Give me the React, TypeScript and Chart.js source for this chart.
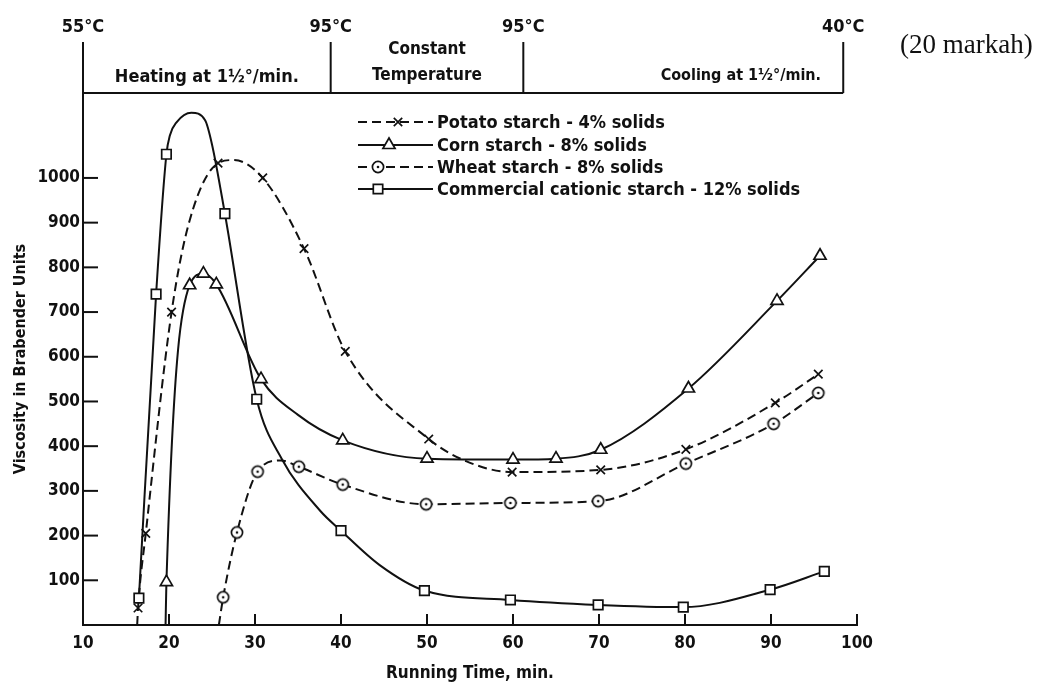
import React, { useEffect, useRef } from "react";
import { Chart, registerables } from "chart.js";

Chart.register(...registerables);

const INK = "#111111";
const FONT = '"DejaVu Sans Condensed", "DejaVu Sans", sans-serif';

// ---------- axes / annotations ----------
const xTickValues = [10, 20, 30, 40, 50, 60, 70, 80, 90, 100];
const yTickValues = [100, 200, 300, 400, 500, 600, 700, 800, 900, 1000];
const xTitle = "Running Time, min.";
const yTitle = "Viscosity in Brabender Units";

const tempLabels = ["55°C", "95°C", "95°C", "40°C"];
const tempTimes = [10, 38.8, 61.2, 98.4];
const phaseHeating = "Heating at 1½°/min.";
const phaseConstant = ["Constant", "Temperature"];
const phaseCooling = "Cooling at 1½°/min.";
const sideNote = "(20 markah)";

const seriesNames = [
  "Potato starch - 4% solids",
  "Corn starch - 8% solids",
  "Wheat starch - 8% solids",
  "Commercial cationic starch - 12% solids",
];

// ---------- data: marked points ----------
const potatoX = [16.4, 17.3, 20.3, 25.7, 30.9, 35.7, 40.5, 50.2, 59.9, 70.2, 80.1, 90.5, 95.5];
const potatoY = [38, 205, 700, 1033, 1000, 842, 612, 416, 342, 347, 393, 497, 561];
// extra (unmarked) points
const potatoCurveX = [16.3, 22.4, 27.5, 54.6];
const potatoCurveY = [0, 905, 1040, 366];

const cornX = [19.7, 22.4, 24.0, 25.5, 30.7, 40.2, 50.0, 60.0, 65.0, 70.2, 80.4, 90.7, 95.7];
const cornY = [96, 760, 786, 762, 550, 413, 372, 370, 372, 392, 529, 725, 826];
const cornCurveX = [19.6, 35.0];
const cornCurveY = [0, 470];

const wheatX = [26.3, 27.9, 30.3, 35.1, 40.2, 49.9, 59.7, 69.9, 80.1, 90.3, 95.5];
const wheatY = [62, 207, 343, 354, 314, 270, 273, 277, 361, 450, 519];
const wheatCurveX = [25.8, 33.0];
const wheatCurveY = [0, 368];

const cationicX = [16.5, 18.5, 19.7, 26.5, 30.2, 40.0, 49.7, 59.7, 69.9, 79.8, 89.9, 96.2];
const cationicY = [60, 740, 1053, 920, 505, 211, 77, 56, 45, 40, 79, 120];
const cationicCurveX = [20.1, 20.9, 22.6, 24.2, 25.0, 33.1, 37.6, 44.5];
const cationicCurveY = [1095, 1125, 1146, 1129, 1075, 372, 255, 134];

type P = { x: number; y: number };
const pts = (xs: number[], ys: number[]): P[] => xs.map((x, i) => ({ x, y: ys[i] }));
const curve = (xs: number[], ys: number[], ex: number[], ey: number[]): P[] =>
  [...pts(xs, ys), ...pts(ex, ey)].sort((a, b) => a.x - b.x);

function makeCircleDot(r: number): HTMLCanvasElement {
  const c = document.createElement("canvas");
  const s = Math.ceil(2 * r + 4);
  c.width = s;
  c.height = s;
  const g = c.getContext("2d")!;
  g.fillStyle = "#fff";
  g.strokeStyle = INK;
  g.lineWidth = 1.7;
  g.beginPath();
  g.arc(s / 2, s / 2, r, 0, Math.PI * 2);
  g.fill();
  g.stroke();
  g.fillStyle = INK;
  g.beginPath();
  g.arc(s / 2, s / 2, 1.3, 0, Math.PI * 2);
  g.fill();
  return c;
}

function drawMarker(ctx: CanvasRenderingContext2D, kind: string, x: number, y: number, img: HTMLCanvasElement) {
  ctx.save();
  ctx.setLineDash([]);
  ctx.strokeStyle = INK;
  ctx.fillStyle = "#fff";
  ctx.lineWidth = 1.7;
  if (kind === "cross") {
    const d = 4.2;
    ctx.beginPath();
    ctx.moveTo(x - d, y - d);
    ctx.lineTo(x + d, y + d);
    ctx.moveTo(x + d, y - d);
    ctx.lineTo(x - d, y + d);
    ctx.stroke();
  } else if (kind === "triangle") {
    const r = 7;
    ctx.beginPath();
    ctx.moveTo(x, y - r);
    ctx.lineTo(x + r * 0.866, y + r / 2);
    ctx.lineTo(x - r * 0.866, y + r / 2);
    ctx.closePath();
    ctx.fill();
    ctx.stroke();
  } else if (kind === "circle") {
    ctx.drawImage(img, x - img.width / 2, y - img.height / 2);
  } else {
    const h = 4.7;
    ctx.beginPath();
    ctx.rect(x - h, y - h, 2 * h, 2 * h);
    ctx.fill();
    ctx.stroke();
  }
  ctx.restore();
}

export default function App() {
  const ref = useRef<HTMLCanvasElement | null>(null);

  useEffect(() => {
    if (!ref.current) return;
    const circleImg = makeCircleDot(5.6);
    const kinds = ["cross", "triangle", "circle", "rect"];
    const dashes = [[9, 5], [], [9, 5], []];

    const overlay = {
      id: "overlay",
      afterDraw(chart: any) {
        const ctx: CanvasRenderingContext2D = chart.ctx;
        const xs = chart.scales.x;
        const ys = chart.scales.y;
        const a = chart.chartArea;
        ctx.save();
        ctx.strokeStyle = INK;
        ctx.fillStyle = INK;
        ctx.lineWidth = 2;
        ctx.setLineDash([]);

        // header band
        const hx = tempTimes.map((t) => xs.getPixelForValue(t));
        const headTop = 42;
        ctx.beginPath();
        ctx.moveTo(hx[0], a.top);
        ctx.lineTo(hx[hx.length - 1], a.top);
        ctx.stroke();
        hx.forEach((x) => {
          ctx.beginPath();
          ctx.moveTo(x, headTop);
          ctx.lineTo(x, a.top);
          ctx.stroke();
        });
        ctx.textAlign = "center";
        ctx.textBaseline = "middle";
        ctx.font = `bold 18px ${FONT}`;
        tempLabels.forEach((l, i) => ctx.fillText(l, hx[i], 27));
        ctx.fillText(phaseHeating, (hx[0] + hx[1]) / 2, 77);
        ctx.font = `bold 17px ${FONT}`;
        ctx.fillText(phaseConstant[0], (hx[1] + hx[2]) / 2, 50);
        ctx.fillText(phaseConstant[1], (hx[1] + hx[2]) / 2, 76);
        ctx.font = `bold 16px ${FONT}`;
        ctx.fillText(phaseCooling, hx[2] + (hx[3] - hx[2]) * 0.68, 76);

        // inward tick marks
        yTickValues.forEach((v) => {
          const py = ys.getPixelForValue(v);
          ctx.beginPath();
          ctx.moveTo(a.left, py);
          ctx.lineTo(a.left + 15, py);
          ctx.stroke();
        });
        xTickValues.slice(1).forEach((v) => {
          const px = xs.getPixelForValue(v);
          ctx.beginPath();
          ctx.moveTo(px, a.bottom);
          ctx.lineTo(px, a.bottom - 11);
          ctx.stroke();
        });

        // axis titles
        ctx.font = `bold 17px ${FONT}`;
        ctx.fillText(xTitle, (a.left + a.right) / 2, 674);
        ctx.save();
        ctx.translate(21, (a.top + a.bottom) / 2);
        ctx.rotate(-Math.PI / 2);
        ctx.font = `bold 16px ${FONT}`;
        ctx.fillText(yTitle, 0, 0);
        ctx.restore();

        // legend
        const rows = [122, 145, 167, 189];
        const mk = [398, 389, 378, 378];
        ctx.font = `bold 18px ${FONT}`;
        ctx.textAlign = "left";
        seriesNames.forEach((name, i) => {
          const y = rows[i];
          ctx.setLineDash(dashes[i]);
          ctx.lineWidth = 2;
          ctx.beginPath();
          ctx.moveTo(358, y);
          ctx.lineTo(433, y);
          ctx.stroke();
          ctx.setLineDash([]);
          drawMarker(ctx, kinds[i], mk[i], y, circleImg);
          ctx.fillStyle = INK;
          ctx.fillText(name, 437, y + 1);
        });

        // side note
        ctx.font = `27px "Liberation Serif", "Times New Roman", serif`;
        ctx.textBaseline = "alphabetic";
        ctx.fillText(sideNote, 900, 53);
        ctx.restore();
      },
    };

    const markerDs = (label: string, data: P[], style: any, radius: number) => ({
      label,
      data,
      showLine: false,
      pointStyle: style,
      pointRadius: radius,
      pointBorderWidth: 1.7,
      borderColor: INK,
      pointBorderColor: INK,
      pointBackgroundColor: "#fff",
      backgroundColor: "#fff",
      order: 0,
    });
    const curveDs = (label: string, data: P[], dash: number[]) => ({
      label,
      data,
      borderColor: INK,
      borderWidth: 2,
      borderDash: dash,
      pointRadius: 0,
      fill: false,
      tension: 0.4,
      cubicInterpolationMode: "monotone",
      order: 1,
    });

    const chart = new Chart(ref.current, {
      type: "line",
      data: {
        datasets: [
          markerDs(seriesNames[0], pts(potatoX, potatoY), "crossRot", 6),
          markerDs(seriesNames[1], pts(cornX, cornY), "triangle", 7),
          markerDs(seriesNames[2], pts(wheatX, wheatY), circleImg, 6),
          markerDs(seriesNames[3], pts(cationicX, cationicY), "rect", 6.7),
          curveDs(seriesNames[0], curve(potatoX, potatoY, potatoCurveX, potatoCurveY), [9, 5]),
          curveDs(seriesNames[1], curve(cornX, cornY, cornCurveX, cornCurveY), []),
          curveDs(seriesNames[2], curve(wheatX, wheatY, wheatCurveX, wheatCurveY), [9, 5]),
          curveDs(seriesNames[3], curve(cationicX, cationicY, cationicCurveX, cationicCurveY), []),
        ] as any,
      },
      options: {
        responsive: false,
        animation: false,
        events: [],
        layout: { padding: { left: 0, top: 93, right: 200, bottom: 0 } },
        plugins: { legend: { display: false }, tooltip: { enabled: false } },
        scales: {
          x: {
            type: "linear",
            min: 10,
            max: 100,
            afterFit: (s: any) => {
              s.height = 64;
            },
            afterBuildTicks: (s: any) => {
              s.ticks = xTickValues.map((v) => ({ value: v }));
            },
            grid: { display: false, drawTicks: false },
            border: { display: true, color: INK, width: 2 },
            ticks: {
              color: INK,
              padding: 8,
              autoSkip: false,
              maxRotation: 0,
              font: { family: FONT, size: 17, weight: "bold" },
              callback: (v: any) => String(v),
            },
          },
          y: {
            type: "linear",
            min: 0,
            max: 1190,
            afterFit: (s: any) => {
              s.width = 83;
            },
            afterBuildTicks: (s: any) => {
              s.ticks = yTickValues.map((v) => ({ value: v }));
            },
            grid: { display: false, drawTicks: false },
            border: { display: true, color: INK, width: 2 },
            ticks: {
              color: INK,
              padding: 3,
              autoSkip: false,
              font: { family: FONT, size: 17, weight: "bold" },
              callback: (v: any) => String(v),
            },
          },
        },
      } as any,
      plugins: [overlay],
    });
    return () => chart.destroy();
  }, []);

  return (
    <div style={{ position: "absolute", left: 0, top: 0, width: 1057, height: 689, background: "#fff" }}>
      <canvas ref={ref} width={1057} height={689} style={{ width: 1057, height: 689, display: "block" }} />
    </div>
  );
}
